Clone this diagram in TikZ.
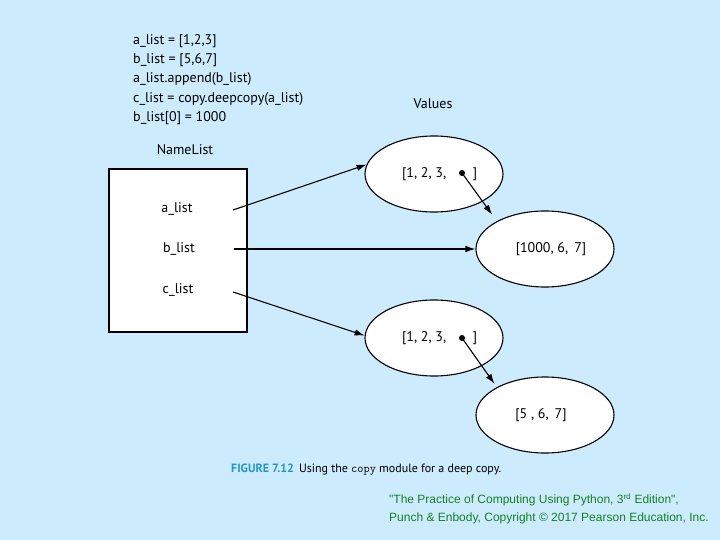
\documentclass[tikz,border=0pt]{standalone}
\usepackage{fontspec}
\setmainfont{PT Sans}
\newfontfamily\creditfont{Liberation Sans}
\usepackage{tikz}
\usetikzlibrary{positioning}
\usetikzlibrary{shapes.geometric}
\usetikzlibrary{arrows.meta}
\definecolor{bgblue}{RGB}{204,236,253}
\definecolor{capblue}{RGB}{30,150,210}
\definecolor{creditgreen}{RGB}{20,130,30}

\begin{document}
\begin{tikzpicture}[
    x=1pt, y=-1pt,
    valnode/.style={draw, ellipse, fill=white, line width=1.1pt,
      minimum width=138pt, minimum height=76pt},
    valtext/.style={inner sep=0pt, font=\fontsize{14}{16}\selectfont},
    namenode/.style={font=\fontsize{14}{16}\selectfont},
    ptr/.style={-{Latex[length=10pt,width=6.5pt]}, line width=1.1pt}
    ]

    \fill[bgblue] (0,0) rectangle (720,540);
    \useasboundingbox (0,0) rectangle (720,540);

    % code
    \node[namenode, anchor=north west, align=left, inner sep=0pt,
      font=\fontsize{14}{19.4}\selectfont] (code) at (133,34)
      {a\_list = [1,2,3]\\ b\_list = [5,6,7]\\ a\_list.append(b\_list)\\
       c\_list = copy.deepcopy(a\_list)\\ b\_list[0] = 1000};
    \node[namenode] (vals) at (433,104) {Values};
    \node[namenode] (nl) at (185,150) {NameList};

    % names
    \draw[fill=white, line width=1.1pt] (109,169) rectangle (247,332);
    \node[namenode] (a) at (177,209) {a\_list};
    \node[namenode] (b) at (179,249) {b\_list};
    \node[namenode] (c) at (178,290) {c\_list};
    \coordinate (ao) at (233,210);
    \coordinate (bo) at (234,249);
    \coordinate (co) at (233,292);

    % values
    \node[valnode] (e1) at (434,174) {};
    \node[valnode] (e2) at (545,249) {};
    \node[valnode] (e3) at (434,338) {};
    \node[valnode] (e4) at (545,415) {};
    \node[valtext, anchor=west] (t1) at (402,174) {[1, 2, 3,};
    \node[valtext] (r1) at (475,174) {]};
    \node[valtext, anchor=west] (t3) at (402,338) {[1, 2, 3,};
    \node[valtext] (r3) at (475,338) {]};
    \node[valtext] (t2) at (551,249) {[1000, 6,\, 7]};
    \node[valtext] (t4) at (541,415) {[5 , 6,\, 7]};
    \coordinate (d1) at (462,173);
    \coordinate (d3) at (462,338);
    \fill (d1) circle (3pt);
    \fill (d3) circle (3pt);

    \draw[ptr] (ao) -- (e1.172);
    \draw[ptr] (bo) -- (e2.west);
    \draw[ptr] (co) -- (e3.178);
    \draw[ptr, shorten >=8pt] (d1) -- (e2.150);
    \draw[ptr, shorten >=4pt] (d3) -- (e4.150);

    % caption
    \node[anchor=west, inner sep=0pt, font=\fontsize{12}{14}\selectfont] (cap) at (231,470)
      {\textcolor{capblue}{\bfseries FIGURE 7.12}\hspace{5pt}Using the \texttt{copy} module for a deep copy.};
    \node[anchor=north west, align=left, inner sep=0pt, text=creditgreen,
      font=\creditfont\fontsize{12}{18}\selectfont] (credit) at (389,493)
      {"The Practice of Computing Using Python, 3\textsuperscript{rd} Edition",\\
       Punch \& Enbody, Copyright \textcopyright{} 2017 Pearson Education, Inc.};

  \end{tikzpicture}
\end{document}
